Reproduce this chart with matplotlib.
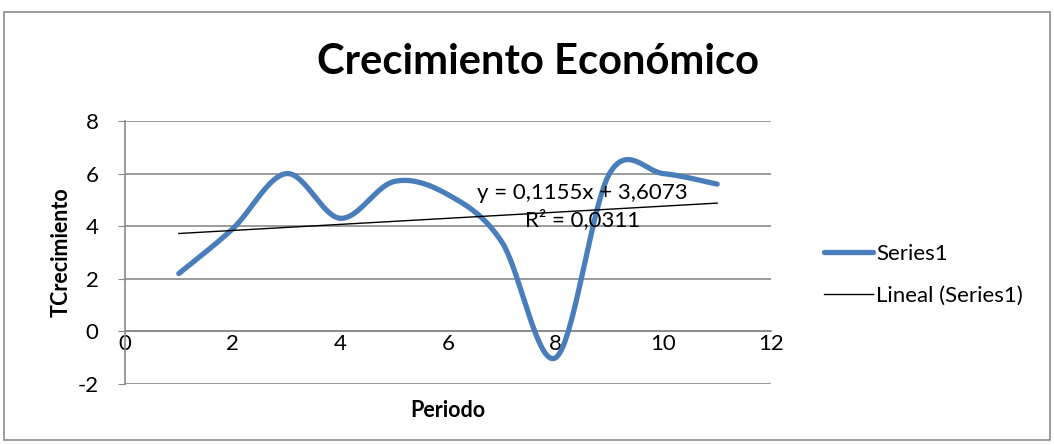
import numpy as np
import matplotlib
matplotlib.use("Agg")
import matplotlib.pyplot as plt
from matplotlib.lines import Line2D
from matplotlib.patches import Rectangle

plt.rcParams['font.family'] = ['Lato', 'DejaVu Sans']
plt.rcParams['axes.unicode_minus'] = False

# Data
periodo = [1, 2, 3, 4, 5, 6, 7, 8, 9, 10, 11]
tcrecimiento = [2.2, 3.9, 6.0, 4.3, 5.7, 5.2, 3.4, -1.0, 6.0, 6.0, 5.6]
trend_slope = 0.1155
trend_intercept = 3.6073
trend_r2 = 0.0311
x_ticks = [0, 2, 4, 6, 8, 10, 12]
y_ticks = [-2, 0, 2, 4, 6, 8]


def smooth_curve(xs, ys, n=40):
    """Bezier smoothing through the points (Catmull-Rom style control points)."""
    pts = np.column_stack([xs, ys]).astype(float)
    out = []
    m = len(pts)
    for i in range(m - 1):
        p0 = pts[i - 1] if i > 0 else pts[i]
        p1 = pts[i]
        p2 = pts[i + 1]
        p3 = pts[i + 2] if i + 2 < m else pts[i + 1]
        c1 = p1 + (p2 - p0) / 6.0
        c2 = p2 - (p3 - p1) / 6.0
        t = np.linspace(0, 1, n)[:, None]
        seg = ((1 - t) ** 3) * p1 + 3 * ((1 - t) ** 2) * t * c1 + 3 * (1 - t) * t ** 2 * c2 + t ** 3 * p2
        out.append(seg if i == 0 else seg[1:])
    seg = np.vstack(out)
    return seg[:, 0], seg[:, 1]


fig = plt.figure(figsize=(10.54, 4.45), dpi=100)
fig.patches.append(Rectangle((4 / 1054, 5 / 445), 1046 / 1054, 428 / 445,
                             transform=fig.transFigure, fill=False,
                             edgecolor='#8c8c8c', linewidth=1.2))

ax = fig.add_axes([125 / 1054, 1 - 384 / 445, 646 / 1054, 263 / 445])

grid_color = '#8a8a8a'
for yv in y_ticks:
    ax.axhline(yv, color=grid_color, linewidth=1.2, zorder=1)

sx, sy = smooth_curve(periodo, tcrecimiento)
ax.plot(sx, sy, color='#4a7ebb', linewidth=3.8, solid_capstyle='round',
        solid_joinstyle='round', zorder=3)

tx = np.array([periodo[0], periodo[-1]], dtype=float)
ax.plot(tx, trend_slope * tx + trend_intercept, color='black', linewidth=1.0, zorder=4)

eq = f"y = {trend_slope:.4f}x + {trend_intercept:.4f}".replace('.', ',')
r2 = f"R² = {trend_r2:.4f}".replace('.', ',')
ax.text(8.5, 4.75, eq + "\n" + r2, ha='center', va='center', fontsize=16,
        linespacing=1.35, zorder=5)

ax.set_xlim(0, 12)
ax.set_ylim(-2, 8)
ax.set_xticks(x_ticks)
ax.set_yticks(y_ticks)
ax.tick_params(axis='both', labelsize=16, colors='black', length=0)
ax.tick_params(axis='y', length=5, color=grid_color, pad=14)
ax.tick_params(axis='x', pad=2)

for s in ['top', 'right']:
    ax.spines[s].set_visible(False)
ax.spines['bottom'].set_position(('data', 0))
ax.spines['bottom'].set_color(grid_color)
ax.spines['bottom'].set_linewidth(1.2)
ax.spines['left'].set_color(grid_color)
ax.spines['left'].set_linewidth(1.2)

ax.set_xlabel('Periodo', fontsize=15.5, fontweight='bold')
ax.xaxis.set_label_coords(0.5, -0.06)
ax.set_ylabel('TCrecimiento', fontsize=15.5, fontweight='bold')
ax.yaxis.set_label_coords(-0.083, 0.5)

fig.text(538 / 1054, 1 - 62 / 445, 'Crecimiento Económico', ha='center', va='center',
         fontsize=30, fontweight='bold')

handles = [Line2D([], [], color='#4a7ebb', linewidth=3.8, solid_capstyle='round'),
           Line2D([], [], color='black', linewidth=1.0)]
fig.legend(handles, ['Series1', 'Lineal (Series1)'], loc='center left',
           bbox_to_anchor=(804 / 1054, 1 - 275 / 445), frameon=False, fontsize=16,
           handlelength=2.2, handletextpad=0.15, labelspacing=1.0)

fig.savefig('out.png', dpi=100)
